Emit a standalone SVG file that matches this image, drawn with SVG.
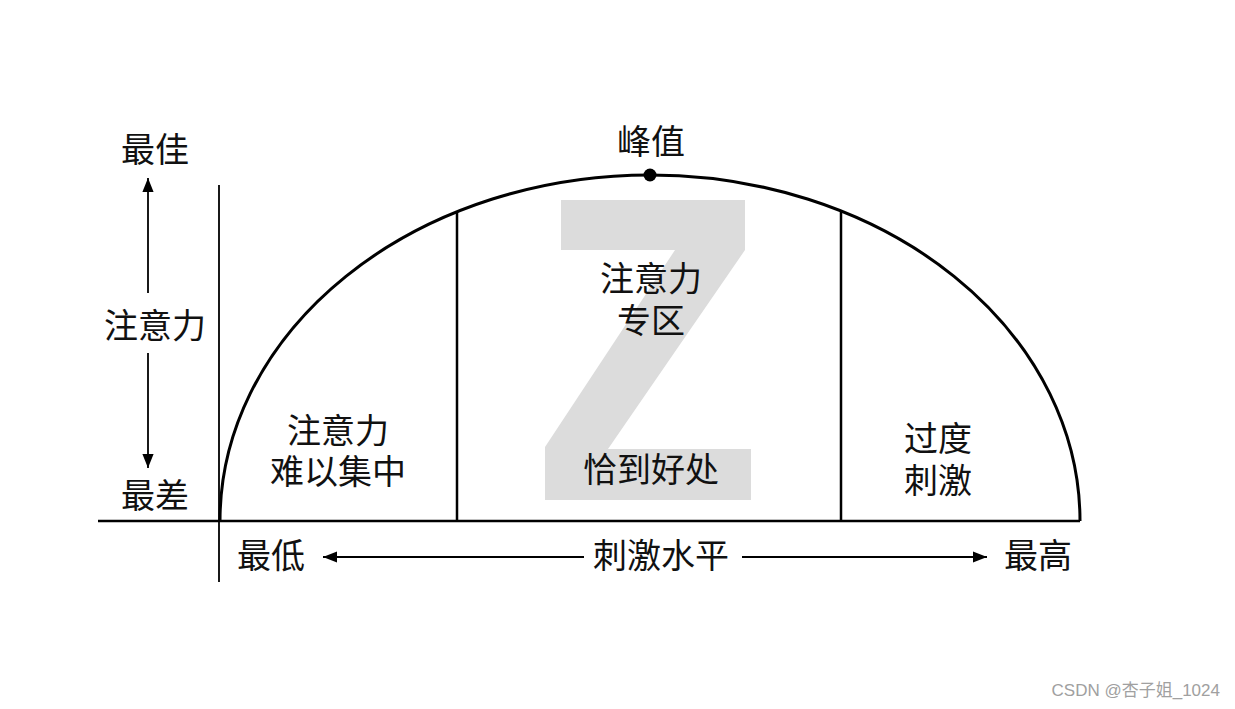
<svg xmlns="http://www.w3.org/2000/svg" width="1235" height="709" viewBox="0 0 1235 709">
<style>
.t{font-family:"Liberation Sans","Noto Sans CJK SC",sans-serif;font-size:34px;fill:#111;text-anchor:middle;dominant-baseline:central}
.ln{stroke:#000;fill:none}
</style>
<defs>
<marker id="ah" viewBox="0 0 10 10" refX="10" refY="5" markerWidth="14" markerHeight="14" markerUnits="userSpaceOnUse" orient="auto-start-reverse">
<path d="M0,1 L10,5 L0,9 Z" fill="#000"/>
</marker>
</defs>
<rect width="1235" height="709" fill="#fff"/>
<g id="zshape">
<polygon points="561,200 745,200 745,250 608,449 751,449 751,500 545,500 545,447 675,250 561,250" fill="#dcdcdc"/>
</g>
<g id="connectors">
<line class="ln" x1="98" y1="521" x2="1080" y2="521" stroke-width="2.5"/>
<line class="ln" x1="219" y1="185" x2="219" y2="582" stroke-width="1.8"/>
<path class="ln" d="M220,521 A430,346 0 0 1 1080,521" stroke-width="3"/>
<line class="ln" x1="457" y1="212" x2="457" y2="521" stroke-width="2.5"/>
<line class="ln" x1="841" y1="212" x2="841" y2="521" stroke-width="2.5"/>
<line class="ln" x1="148" y1="293" x2="148" y2="178" stroke-width="1.8" marker-end="url(#ah)"/>
<line class="ln" x1="148" y1="353" x2="148" y2="468" stroke-width="1.8" marker-end="url(#ah)"/>
<line class="ln" x1="584" y1="557" x2="323" y2="557" stroke-width="1.8" marker-end="url(#ah)"/>
<line class="ln" x1="742" y1="557" x2="987" y2="557" stroke-width="1.8" marker-end="url(#ah)"/>
</g>
<g id="peak">
<circle cx="650" cy="175" r="6.5" fill="#000"/>
<text class="t" x="651" y="142">峰值</text>
</g>
<g id="yaxis">
<text class="t" x="155" y="150">最佳</text>
<text class="t" x="155" y="326">注意力</text>
<text class="t" x="155" y="496">最差</text>
</g>
<g id="zone-left">
<text class="t" x="338" y="431">注意力</text>
<text class="t" x="338" y="472">难以集中</text>
</g>
<g id="zone-mid">
<text class="t" x="651" y="279">注意力</text>
<text class="t" x="651" y="321">专区</text>
<text class="t" x="651" y="470">恰到好处</text>
</g>
<g id="zone-right">
<text class="t" x="938" y="439">过度</text>
<text class="t" x="938" y="481">刺激</text>
</g>
<g id="xaxis">
<text class="t" x="271" y="556">最低</text>
<text class="t" x="661" y="556">刺激水平</text>
<text class="t" x="1038" y="556">最高</text>
</g>
<text x="1220" y="690" font-family="'Liberation Sans','Noto Sans CJK SC',sans-serif" font-size="17" fill="#a0a0a0" text-anchor="end" dominant-baseline="central">CSDN @杏子姐_1024</text>
</svg>
